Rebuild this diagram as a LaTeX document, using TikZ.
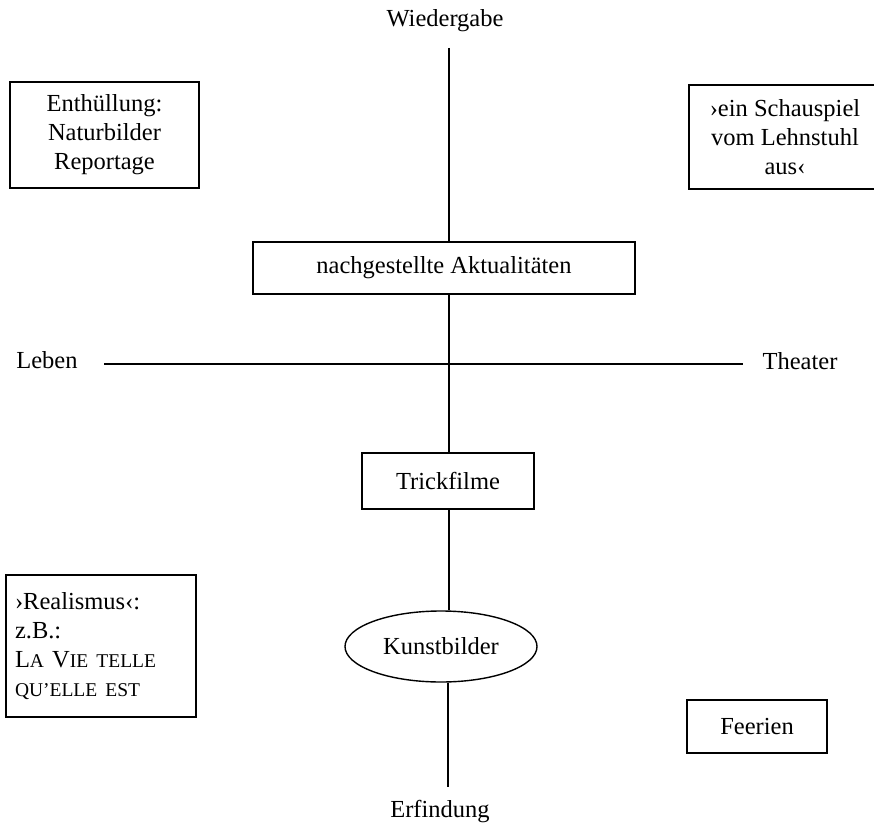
\documentclass[tikz,border=0pt]{standalone}
\usepackage{fontspec}
\setmainfont{Liberation Serif}
\usetikzlibrary{shapes.geometric}
\newcommand{\smallcaps}{\fontsize{19.5}{29}\selectfont}
\begin{document}
\begin{tikzpicture}[x=1pt,y=-1pt,
  every node/.style={font=\fontsize{24.5}{29}\selectfont},
  box/.style={draw, line width=1.6pt, inner sep=0pt, align=center},
  axis/.style={line width=1.4pt},
  lbl/.style={anchor=base, inner sep=0pt}]
\useasboundingbox (0,0) rectangle (874,826);
% axis labels
\node[lbl] (wied) at (445,27) {Wiedergabe};
\node[lbl] (erf) at (440,817) {Erfindung};
\node[lbl] (leben) at (47,368) {Leben};
\node[lbl] (theater) at (800,369) {Theater};
% boxes
\node[box, minimum width=189pt, minimum height=106pt] (enth) at (104.5,135) {Enthüllung:\\Naturbilder\\Reportage};
\node[box, minimum width=192pt, minimum height=104pt] (schau) at (785,137) {›ein Schauspiel\\vom Lehnstuhl\\aus‹};
\node[box, minimum width=382pt, minimum height=52pt] (nach) at (444,268) {nachgestellte Aktualitäten};
\node[box, minimum width=172pt, minimum height=56pt] (trick) at (448,481) {Trickfilme};
\node[draw, ellipse, line width=1.4pt, inner sep=0pt, minimum width=192pt, minimum height=71pt] (kunst) at (441,646.5) {Kunstbilder};
\node[box, text width=172pt, align=left, inner xsep=9pt, minimum height=142pt] (real) at (101,646) {›Realismus‹:\\z.B.:\\L{\smallcaps A} V{\smallcaps IE TELLE}\\{\smallcaps QU’ELLE EST}};
\node[box, minimum width=140pt, minimum height=53pt] (feer) at (757,726.5) {Feerien};
% axes
\coordinate (top) at (449,48);
\coordinate (bot) at (448,787);
\coordinate (hl) at (104,364);
\coordinate (hr) at (743,364);
\draw[axis] (top) -- (top |- nach.north);
\draw[axis] (nach.south -| top) -- (trick.north -| top);
\draw[axis] (trick.south -| top) -- (kunst.north -| top);
\draw[axis] (kunst.south -| bot) -- (bot);
\draw[axis] (hl) -- (hr);
\end{tikzpicture}
\end{document}
